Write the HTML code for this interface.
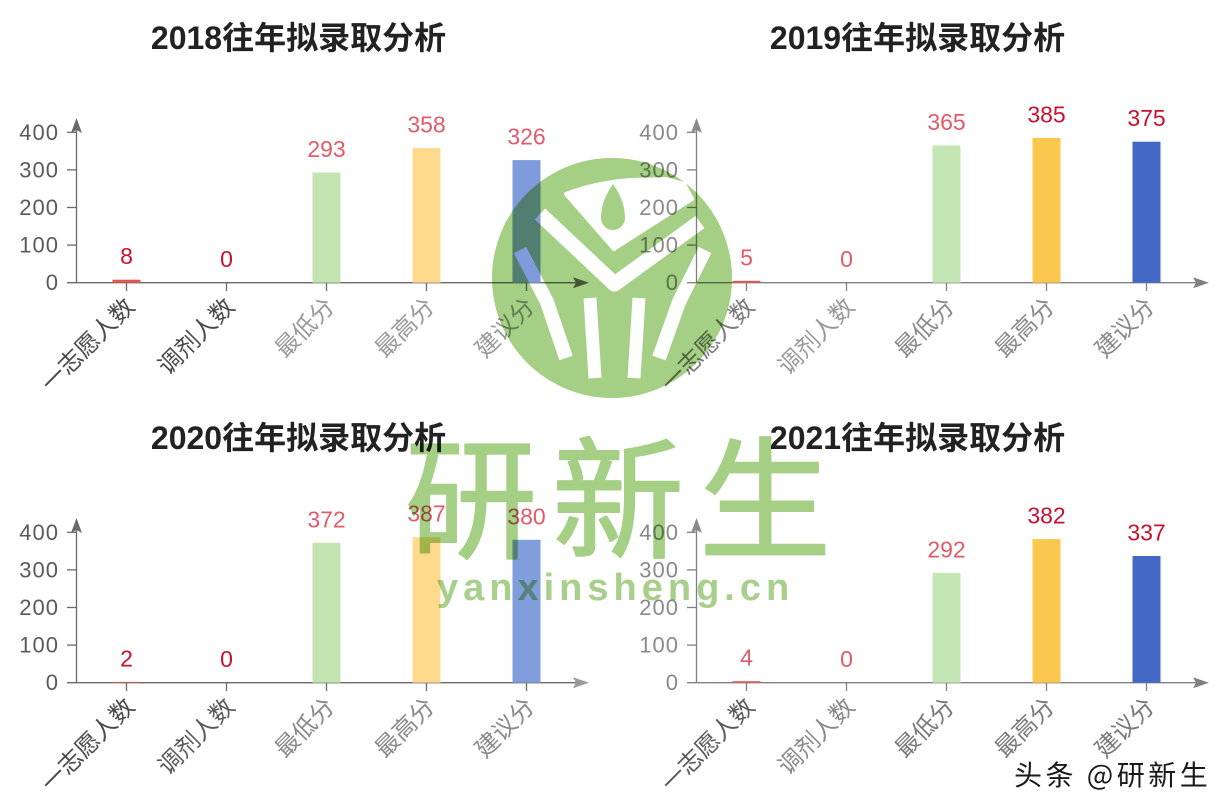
<!DOCTYPE html>
<html><head><meta charset="utf-8">
<style>
html,body{margin:0;padding:0;background:#fff;}
#wrap{position:relative;width:1232px;height:812px;overflow:hidden;background:#fff;}
svg{position:absolute;left:0;top:0;}
.t{font-family:"Liberation Sans","Noto Sans CJK SC",sans-serif;font-weight:bold;font-size:32px;fill:#222;}
.yl{font-family:"Liberation Sans",sans-serif;font-size:22px;letter-spacing:1px;}
.vl{font-family:"Liberation Sans",sans-serif;font-size:23px;}
.cl{font-family:"Noto Sans CJK SC","Liberation Sans",sans-serif;font-size:24px;}
#wm{mix-blend-mode:multiply;}
</style></head><body><div id="wrap">
<svg width="1232" height="812" viewBox="0 0 1232 812">
<!-- Titles -->
<text class="t" x="298.5" y="49" text-anchor="middle">2018往年拟录取分析</text>
<text class="t" x="917.5" y="49" text-anchor="middle">2019往年拟录取分析</text>
<text class="t" x="298.5" y="449" text-anchor="middle">2020往年拟录取分析</text>
<text class="t" x="917.5" y="449" text-anchor="middle">2021往年拟录取分析</text>

<!-- ===== Chart 2018 ===== -->
<g>
 <g stroke="#6a6a6a" stroke-width="1.3" fill="none">
  <line x1="76.5" y1="124" x2="76.5" y2="282.7"/>
  <line x1="67" y1="282.7" x2="584" y2="282.7"/>
  <line x1="67" y1="245.1" x2="76.5" y2="245.1"/>
  <line x1="67" y1="207.5" x2="76.5" y2="207.5"/>
  <line x1="67" y1="169.9" x2="76.5" y2="169.9"/>
  <line x1="67" y1="132.3" x2="76.5" y2="132.3"/>
  <line x1="126.5" y1="282.7" x2="126.5" y2="291"/>
  <line x1="226.5" y1="282.7" x2="226.5" y2="291"/>
  <line x1="326.5" y1="282.7" x2="326.5" y2="291"/>
  <line x1="426.5" y1="282.7" x2="426.5" y2="291"/>
  <line x1="526.5" y1="282.7" x2="526.5" y2="291"/>
 </g>
 <polygon points="76.5,118 71,133 76.5,130 82,133" fill="#6a6a6a"/>
 <polygon points="589,282.7 573,277.2 576,282.7 573,288.2" fill="#6a6a6a"/>
 <g class="yl" fill="#5a5a5a" text-anchor="end">
  <text x="59" y="290.2">0</text><text x="59" y="252.6">100</text><text x="59" y="215">200</text><text x="59" y="177.4">300</text><text x="59" y="139.8">400</text>
 </g>
 <rect x="112.5" y="279.7" width="28" height="3" fill="#e2574c"/>
 <rect x="312.5" y="172.5" width="28" height="110.2" fill="#c3e4b1"/>
 <rect x="412.5" y="148.1" width="28" height="134.6" fill="#fedb8c"/>
 <rect x="512.5" y="160.1" width="28" height="122.6" fill="#7f9bdb"/>
 <g class="vl" text-anchor="middle">
  <text x="126.5" y="264.2" fill="#c8102e">8</text>
  <text x="226.5" y="267.2" fill="#c8102e">0</text>
  <text x="326.5" y="157" fill="#e05a6a">293</text>
  <text x="426.5" y="132.6" fill="#e05a6a">358</text>
  <text x="526.5" y="144.6" fill="#e05a6a">326</text>
 </g>
 <g class="cl" text-anchor="end" dominant-baseline="central">
  <text transform="translate(128.5,300.7) rotate(-45)" fill="#4a4a4a">一志愿人数</text>
  <text transform="translate(228.5,300.7) rotate(-45)" fill="#4a4a4a">调剂人数</text>
  <text transform="translate(328.5,300.7) rotate(-45)" fill="#9a9a9a">最低分</text>
  <text transform="translate(428.5,300.7) rotate(-45)" fill="#9a9a9a">最高分</text>
  <text transform="translate(528.5,300.7) rotate(-45)" fill="#9a9a9a">建议分</text>
 </g>
</g>

<!-- ===== Chart 2019 ===== -->
<g transform="translate(620,0)">
 <g stroke="#808080" stroke-width="1.3" fill="none">
  <line x1="76.5" y1="124" x2="76.5" y2="282.7"/>
  <line x1="67" y1="282.7" x2="584" y2="282.7"/>
  <line x1="67" y1="245.1" x2="76.5" y2="245.1"/>
  <line x1="67" y1="207.5" x2="76.5" y2="207.5"/>
  <line x1="67" y1="169.9" x2="76.5" y2="169.9"/>
  <line x1="67" y1="132.3" x2="76.5" y2="132.3"/>
  <line x1="126.5" y1="282.7" x2="126.5" y2="291"/>
  <line x1="226.5" y1="282.7" x2="226.5" y2="291"/>
  <line x1="326.5" y1="282.7" x2="326.5" y2="291"/>
  <line x1="426.5" y1="282.7" x2="426.5" y2="291"/>
  <line x1="526.5" y1="282.7" x2="526.5" y2="291"/>
 </g>
 <polygon points="76.5,118 71,133 76.5,130 82,133" fill="#8a8a8a"/>
 <polygon points="589,282.7 573,277.2 576,282.7 573,288.2" fill="#808080"/>
 <g class="yl" fill="#8a8a8a" text-anchor="end">
  <text x="59" y="290.2">0</text><text x="59" y="252.6">100</text><text x="59" y="215">200</text><text x="59" y="177.4">300</text><text x="59" y="139.8">400</text>
 </g>
 <rect x="112.5" y="280.8" width="28" height="1.9" fill="#e2574c"/>
 <rect x="312.5" y="145.5" width="28" height="137.2" fill="#c4e6b4"/>
 <rect x="412.5" y="137.9" width="28" height="144.8" fill="#fbc84f"/>
 <rect x="512.5" y="141.7" width="28" height="141" fill="#4468c6"/>
 <g class="vl" text-anchor="middle">
  <text x="126.5" y="265.3" fill="#e05a6a">5</text>
  <text x="226.5" y="267.2" fill="#e05a6a">0</text>
  <text x="326.5" y="130" fill="#e05a6a">365</text>
  <text x="426.5" y="122.4" fill="#c8102e">385</text>
  <text x="526.5" y="126.2" fill="#c8102e">375</text>
 </g>
 <g class="cl" text-anchor="end" dominant-baseline="central">
  <text transform="translate(128.5,300.7) rotate(-45)" fill="#7a7a7a">一志愿人数</text>
  <text transform="translate(228.5,300.7) rotate(-45)" fill="#9a9a9a">调剂人数</text>
  <text transform="translate(328.5,300.7) rotate(-45)" fill="#8a8a8a">最低分</text>
  <text transform="translate(428.5,300.7) rotate(-45)" fill="#8a8a8a">最高分</text>
  <text transform="translate(528.5,300.7) rotate(-45)" fill="#8a8a8a">建议分</text>
 </g>
</g>

<!-- ===== Chart 2020 ===== -->
<g transform="translate(0,400)">
 <g stroke="#6a6a6a" stroke-width="1.3" fill="none">
  <line x1="76.5" y1="124" x2="76.5" y2="282.7"/>
  <line x1="67" y1="282.7" x2="584" y2="282.7"/>
  <line x1="67" y1="245.1" x2="76.5" y2="245.1"/>
  <line x1="67" y1="207.5" x2="76.5" y2="207.5"/>
  <line x1="67" y1="169.9" x2="76.5" y2="169.9"/>
  <line x1="67" y1="132.3" x2="76.5" y2="132.3"/>
  <line x1="126.5" y1="282.7" x2="126.5" y2="291"/>
  <line x1="226.5" y1="282.7" x2="226.5" y2="291"/>
  <line x1="326.5" y1="282.7" x2="326.5" y2="291"/>
  <line x1="426.5" y1="282.7" x2="426.5" y2="291"/>
  <line x1="526.5" y1="282.7" x2="526.5" y2="291"/>
 </g>
 <polygon points="76.5,118 71,133 76.5,130 82,133" fill="#6a6a6a"/>
 <polygon points="589,282.7 573,277.2 576,282.7 573,288.2" fill="#9a9a9a"/>
 <g class="yl" fill="#5a5a5a" text-anchor="end">
  <text x="59" y="290.2">0</text><text x="59" y="252.6">100</text><text x="59" y="215">200</text><text x="59" y="177.4">300</text><text x="59" y="139.8">400</text>
 </g>
 <rect x="112.5" y="281.9" width="28" height="0.8" fill="#e2574c"/>
 <rect x="312.5" y="142.8" width="28" height="139.9" fill="#c3e4b1"/>
 <rect x="412.5" y="137.2" width="28" height="145.5" fill="#fedb8c"/>
 <rect x="512.5" y="139.8" width="28" height="142.9" fill="#809edc"/>
 <g class="vl" text-anchor="middle">
  <text x="126.5" y="266.5" fill="#c8102e">2</text>
  <text x="226.5" y="267.2" fill="#c8102e">0</text>
  <text x="326.5" y="127.3" fill="#e05a6a">372</text>
  <text x="426.5" y="121.7" fill="#e05a6a">387</text>
  <text x="526.5" y="124.3" fill="#e05a6a">380</text>
 </g>
 <g class="cl" text-anchor="end" dominant-baseline="central">
  <text transform="translate(128.5,300.7) rotate(-45)" fill="#4a4a4a">一志愿人数</text>
  <text transform="translate(228.5,300.7) rotate(-45)" fill="#5a5a5a">调剂人数</text>
  <text transform="translate(328.5,300.7) rotate(-45)" fill="#8a8a8a">最低分</text>
  <text transform="translate(428.5,300.7) rotate(-45)" fill="#8a8a8a">最高分</text>
  <text transform="translate(528.5,300.7) rotate(-45)" fill="#8a8a8a">建议分</text>
 </g>
</g>

<!-- ===== Chart 2021 ===== -->
<g transform="translate(620,400)">
 <g stroke="#808080" stroke-width="1.3" fill="none">
  <line x1="76.5" y1="124" x2="76.5" y2="282.7"/>
  <line x1="67" y1="282.7" x2="584" y2="282.7"/>
  <line x1="67" y1="245.1" x2="76.5" y2="245.1"/>
  <line x1="67" y1="207.5" x2="76.5" y2="207.5"/>
  <line x1="67" y1="169.9" x2="76.5" y2="169.9"/>
  <line x1="67" y1="132.3" x2="76.5" y2="132.3"/>
  <line x1="126.5" y1="282.7" x2="126.5" y2="291"/>
  <line x1="226.5" y1="282.7" x2="226.5" y2="291"/>
  <line x1="326.5" y1="282.7" x2="326.5" y2="291"/>
  <line x1="426.5" y1="282.7" x2="426.5" y2="291"/>
  <line x1="526.5" y1="282.7" x2="526.5" y2="291"/>
 </g>
 <polygon points="76.5,118 71,133 76.5,130 82,133" fill="#8a8a8a"/>
 <polygon points="589,282.7 573,277.2 576,282.7 573,288.2" fill="#808080"/>
 <g class="yl" fill="#8a8a8a" text-anchor="end">
  <text x="59" y="290.2">0</text><text x="59" y="252.6">100</text><text x="59" y="215">200</text><text x="59" y="177.4">300</text><text x="59" y="139.8">400</text>
 </g>
 <rect x="112.5" y="281.2" width="28" height="1.5" fill="#e2574c"/>
 <rect x="312.5" y="172.9" width="28" height="109.8" fill="#c4e6b4"/>
 <rect x="412.5" y="139.1" width="28" height="143.6" fill="#fbc84f"/>
 <rect x="512.5" y="156" width="28" height="126.7" fill="#4468c6"/>
 <g class="vl" text-anchor="middle">
  <text x="126.5" y="265.7" fill="#e05a6a">4</text>
  <text x="226.5" y="267.2" fill="#e05a6a">0</text>
  <text x="326.5" y="157.4" fill="#e05a6a">292</text>
  <text x="426.5" y="123.6" fill="#c8102e">382</text>
  <text x="526.5" y="140.5" fill="#c8102e">337</text>
 </g>
 <g class="cl" text-anchor="end" dominant-baseline="central">
  <text transform="translate(128.5,300.7) rotate(-45)" fill="#5a5a5a">一志愿人数</text>
  <text transform="translate(228.5,300.7) rotate(-45)" fill="#8a8a8a">调剂人数</text>
  <text transform="translate(328.5,300.7) rotate(-45)" fill="#7a7a7a">最低分</text>
  <text transform="translate(428.5,300.7) rotate(-45)" fill="#7a7a7a">最高分</text>
  <text transform="translate(528.5,300.7) rotate(-45)" fill="#7a7a7a">建议分</text>
 </g>
</g>

<!-- Footer -->
<text x="1014" y="785" font-family="Noto Sans CJK SC, Liberation Sans, sans-serif" font-size="28" letter-spacing="3.5" fill="#1a1a1a" stroke="#ffffff" stroke-width="0.6" paint-order="stroke">头条 @研新生</text>
</svg>

<!-- Watermark overlay -->
<svg id="wm" width="1232" height="812" viewBox="0 0 1232 812">
 <defs>
  <mask id="lm" maskUnits="userSpaceOnUse" x="0" y="0" width="1232" height="812">
   <rect x="0" y="0" width="1232" height="812" fill="#000"/>
   <circle cx="612" cy="278" r="120" fill="#fff"/>
   <path d="M566,194 Q594,183 630,180 L666,179 L684,184 L692,199 L614,249 Z" fill="#000" stroke="#000" stroke-width="4" stroke-linejoin="round"/>
   <path d="M540,214 L614.5,284 L700,222" stroke="#000" stroke-width="15" fill="none" stroke-linejoin="round"/>
   <path d="M520,250 L547,302 L566,358" stroke="#000" stroke-width="14" fill="none" stroke-linejoin="round"/>
   <path d="M705,250 L679,302 L659,358" stroke="#000" stroke-width="14" fill="none" stroke-linejoin="round"/>
   <path d="M590,298 L595,378" stroke="#000" stroke-width="13" fill="none"/>
   <path d="M639,298 L634,378" stroke="#000" stroke-width="13" fill="none"/>
  </mask>
 </defs>
 <rect x="0" y="0" width="1232" height="812" fill="#a4cf85" mask="url(#lm)"/>
 <path d="M613,184 C620,194 625,205 625,218 A12,12 0 0 1 601,218 C601,205 606,194 613,184 Z" fill="#a4cf85"/>
 <text x="405" y="548" font-family="Noto Sans CJK SC, sans-serif" font-size="132" letter-spacing="15" fill="#a4cf85" stroke="#a4cf85" stroke-width="2" stroke-linejoin="round">研新生</text>
 <text x="437" y="600" font-family="Liberation Sans, sans-serif" font-weight="bold" font-size="38" letter-spacing="5" fill="#a8d08c">yanxinsheng.cn</text>
</svg>
</div></body></html>
